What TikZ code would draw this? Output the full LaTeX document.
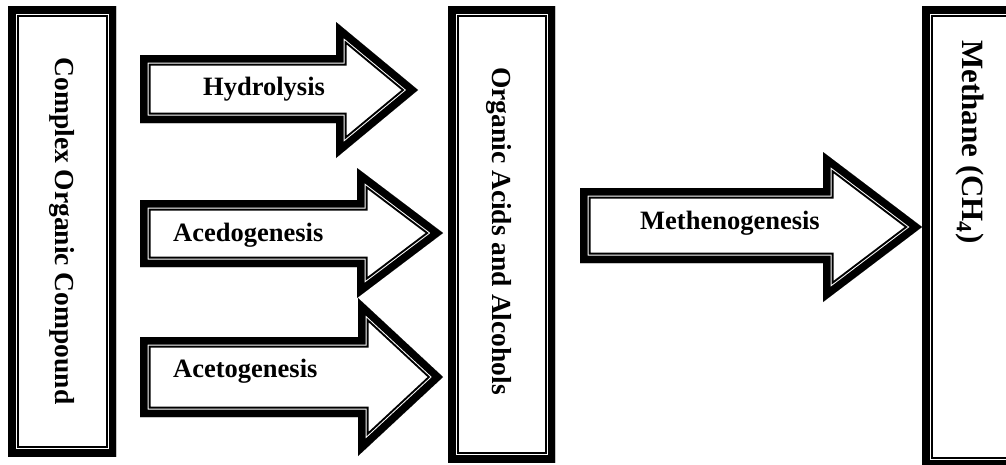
\documentclass[tikz,border=0pt]{standalone}
\usepackage{fontspec}
\setmainfont{Liberation Serif}
\newcommand\framedshape[1]{%
  \begin{scope}
    \clip #1;
    \fill[white] #1;
    \draw[black,line width=21pt] #1;
    \draw[white,line width=17pt] #1;
    \draw[black,line width=15pt] #1;
  \end{scope}}
\begin{document}
\begin{tikzpicture}[x=1pt,y=-1pt,line join=miter,miter limit=20]
\tikzset{
  lbl/.style={font=\fontsize{26.5}{30}\selectfont\bfseries, inner sep=0pt, anchor=base west},
  vlbl/.style={font=\fontsize{27.5}{30}\selectfont\bfseries, inner sep=0pt, rotate=-90},
  bigvlbl/.style={vlbl, font=\fontsize{31}{34}\selectfont\bfseries},
}
\useasboundingbox (0,0) rectangle (1006,464);
\fill[white] (0,0) rectangle (1006,464);
\begin{scope}
\clip (0,0) rectangle (1006,464);
% boxes
\framedshape{(8,6) rectangle (116,456)}
\framedshape{(448,6) rectangle (555,462)}
\framedshape{(922,6) rectangle (1030,467)}
% block arrows
\framedshape{(140,55) -- (336,55) -- (336,22) -- (418,90) -- (336,158) -- (336,123) -- (140,123) -- cycle}
\framedshape{(140,200) -- (357,200) -- (357,168) -- (443,233) -- (357,298) -- (357,267) -- (140,267) -- cycle}
\framedshape{(140,337) -- (358,337) -- (358,298) -- (443,377) -- (358,456) -- (358,417) -- (140,417) -- cycle}
\framedshape{(580,188) -- (823,188) -- (823,152) -- (922,227) -- (823,302) -- (823,263) -- (580,263) -- cycle}
\end{scope}
% labels
\node[vlbl] (complex) at (62,231) {Complex Organic Compound};
\node[vlbl] (acids) at (499,231) {Organic Acids and Alcohols};
\node[bigvlbl] (methane) at (970,142) {Methane (CH\textsubscript{4})};
\node[lbl] (hydro) at (203,95) {Hydrolysis};
\node[lbl] (aced) at (173,241) {Acedogenesis};
\node[lbl] (acet) at (173,377) {Acetogenesis};
\node[lbl] (meth) at (640,229) {Methenogenesis};
\end{tikzpicture}
\end{document}
